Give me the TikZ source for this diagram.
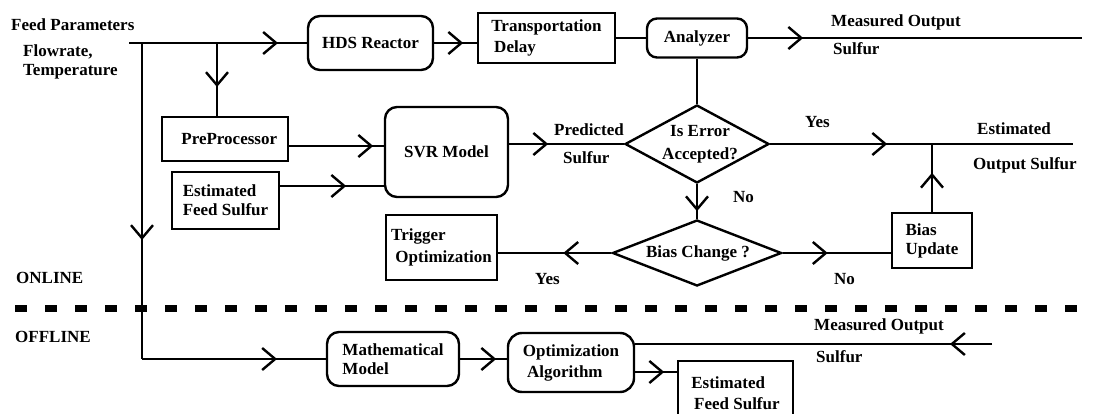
\documentclass[tikz,border=0pt]{standalone}
\usepackage{fontspec}
\setmainfont{Liberation Serif}
\usetikzlibrary{arrows.meta,decorations.markings,shapes.geometric}

\tikzset{barb/.tip={Straight Barb[length=13pt,width=22pt]}}

\begin{document}
\begin{tikzpicture}[x=1pt, y=-1pt, line width=2.4pt,
  every node/.style={font=\fontsize{17}{19}\selectfont\bfseries},
  blk/.style={draw, inner sep=0pt, align=left},
  rblk/.style={blk, rounded corners=12pt},
  dec/.style={draw, diamond, inner sep=0pt},
  lbl/.style={inner sep=0pt, anchor=west},
  flow/.style={postaction={decorate},
    decoration={markings, mark=at position #1 with {\arrow{barb}}}}]
  %%%%% START %%%%%
  \useasboundingbox (0,0) rectangle (1099,414);

  % online part
  \node[lbl] (feed) at (10,25) {Feed Parameters};
  \node[lbl, align=left] (fp) at (22,62) {Flowrate,\\Temperature};

  \node[rblk, minimum width=125pt, minimum height=54pt] (hds) at (370.5,43) {HDS Reactor};
  \node[blk, minimum width=137pt, minimum height=50pt] (trans) at (546.5,38) {Transportation\\[2pt]\,Delay};
  \node[rblk, rounded corners=10pt, minimum width=100pt, minimum height=39pt] (ana) at (697,38) {Analyzer};
  \node[lbl] (meas) at (830,22) {Measured Output};
  \node[lbl] (meass) at (832,49) {Sulfur};

  \node[blk, minimum width=126pt, minimum height=44pt] (pre) at (225,139) {\ \ PreProcessor};
  \node[blk, minimum width=107pt, minimum height=57pt] (efs) at (225.5,200.5) {Estimated\\Feed Sulfur};
  \node[rblk, minimum width=123pt, minimum height=90pt] (svr) at (446.5,152) {SVR Model};
  \node[lbl] (pred) at (553,130) {Predicted};
  \node[lbl] (preds) at (562,158) {Sulfur};

  \node[dec, minimum width=144pt, minimum height=78pt] (err) at (697,144) {};
  \node[align=center] (errq) at (700,144) {Is Error\\[4pt]Accepted?};
  \node[lbl] (yes1) at (804,122) {Yes};
  \node[lbl] (est) at (976,129) {Estimated};
  \node[lbl] (ests) at (972,165) {Output Sulfur};
  \node[lbl] (no1) at (732,197) {No};

  \node[dec, minimum width=169pt, minimum height=66pt] (bias) at (697,253) {};
  \node (biasq) at (698,253) {Bias Change ?};
  \node[blk, minimum width=111pt, minimum height=65pt] (trig) at (441.5,247.5) {Trigger\\[3pt]\ Optimization};
  \node[lbl] (yes2) at (534,279) {Yes};
  \node[lbl] (no2) at (833,279) {No};
  \node[blk, minimum width=80pt, minimum height=55pt] (upd) at (932,240.5) {Bias\\Update};
  \node[lbl] (on) at (15,278) {ONLINE};

  \coordinate (in) at (129,43);
  \coordinate (tap) at (217,43);
  \coordinate (down) at (142,43);
  \coordinate (corner) at (142,359);
  \coordinate (mout) at (1082,38);
  \coordinate (eout) at (1073,144);
  \coordinate (join) at (upd.north |- err.east);

  \draw[flow=149pt] (in) -- (hds.west);
  \draw[flow=44pt] (tap) -- (tap |- pre.north);
  \draw[flow=197pt] (down) -- (corner);
  \draw[flow=29pt] (hds.east) -- (hds.east -| trans.west);
  \draw (trans.east) -- (ana.west);
  \draw[flow=55pt] (ana.east) -- (mout);
  \draw (ana.south) -- (err.north);
  \draw[flow=84pt] ([yshift=-7pt]pre.east) -- ([yshift=-7pt]pre.east -| svr.west);
  \draw[flow=66pt] ([yshift=14.5pt]efs.east) -- ([yshift=14.5pt]efs.east -| svr.west);
  \draw[flow=39pt] (svr.east |- err.west) -- (err.west);
  \draw[flow=117pt] (err.east) -- (eout);
  \draw[flow=27pt] (err.south) -- (bias.north);
  \draw[flow=48pt] (bias.west) -- (bias.west -| trig.east);
  \draw[flow=45pt] (bias.east) -- (bias.east -| upd.west);
  \draw[flow=39pt] (upd.north) -- (join);

  % separator
  \draw[line width=7pt, dash pattern=on 12pt off 18pt] (15,308) -- (1085,308);

  % offline part
  \node[lbl] (off) at (14,337) {OFFLINE};
  \node[rblk, minimum width=132pt, minimum height=54pt] (math) at (393,359) {Mathematical\\Model};
  \node[rblk, rounded corners=14pt, minimum width=126pt, minimum height=59pt] (opt) at (571,362.5) {Optimization\\[2pt]\ Algorithm};
  \node[blk, minimum width=115pt, minimum height=64pt] (efs2) at (735.5,393) {Estimated\\[2pt]\,Feed Sulfur};
  \node[lbl] (meas2) at (813,326) {Measured Output};
  \node[lbl] (meas2s) at (815,357) {Sulfur};

  \coordinate (min) at (992,344);

  \draw[flow=135pt] (corner) -- (math.west);
  \draw[flow=36pt] (math.east) -- (math.east -| opt.west);
  \draw[flow=42pt] (min) -- (min -| opt.east);
  \draw[flow=29pt] ([yshift=-9.5pt]opt.east) -- ([yshift=-9.5pt]opt.east -| efs2.west);
  %%%%% END %%%%%
\end{tikzpicture}
\end{document}
